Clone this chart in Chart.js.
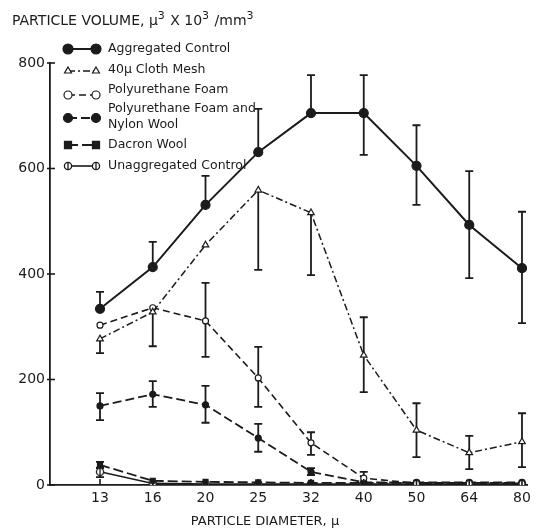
<!DOCTYPE html>
<html>
<head>
<meta charset="utf-8">
<style>
  html, body { margin: 0; padding: 0; background: #fff; }
  #wrap { width: 540px; height: 530px; }
</style>
<script src="https://cdn.jsdelivr.net/npm/chart.js@4/dist/chart.umd.min.js"></script>
</head>
<body>
<div id="wrap"><canvas id="volumeChart" width="540" height="530"></canvas></div>
<script>
// particle diameter classes (x axis)
const diameters = ['13', '16', '20', '25', '32', '40', '50', '64', '80'];

// particle volume, mu^3 x 10^3 / mm^3
const aggregated      = [334, 413, 531, 631, 705, 705, 605, 493, 411];
const aggregatedHi    = [366, 461, 586, 713, 777, 777, 682, 595, 518];
const aggregatedLo    = [null, null, null, null, null, 626, 531, 392, 307];

const clothMesh       = [277, 328, 455, 559, 516, 246, 104, 61, 82];
const clothMeshHi     = [null, null, null, null, null, 318, 155, 93, 136];
const clothMeshLo     = [250, 263, null, 408, 398, 176, 53, 30, 34];

const foam            = [303, 336, 311, 203, 80, 13, 3, 3, 3];
const foamHi          = [null, null, 383, 262, 100, 25, null, null, null];
const foamLo          = [null, null, 243, 148, 57, null, null, null, null];

const foamNylon       = [150, 172, 152, 89, 25, 5, 5, 5, 5];
const foamNylonHi     = [174, 197, 188, 116, 32, null, null, null, null];
const foamNylonLo     = [123, 148, 118, 63, 19, null, null, null, null];

const dacron          = [38, 8, 6, 5, 4, 4, 4, 4, 4];
const dacronHi        = [44, null, null, null, null, null, null, null, null];
const dacronLo        = [32, null, null, null, null, null, null, null, null];

const unaggregated    = [25, 3, 2, 2, 2, 2, 2, 2, 2];
const unaggregatedHi  = [33, null, null, null, null, null, null, null, null];
const unaggregatedLo  = [15, null, null, null, null, null, null, null, null];

const yTicks = [0, 200, 400, 600, 800];

const INK = '#1b1b1b';
const FONT = "'DejaVu Sans', 'Liberation Sans', sans-serif";

// open circle with a vertical bar through it
function barredCircle() {
  const c = document.createElement('canvas');
  c.width = 10; c.height = 10;
  const g = c.getContext('2d');
  g.strokeStyle = INK; g.lineWidth = 1.3; g.fillStyle = '#fff';
  g.beginPath(); g.arc(5, 5, 3.6, 0, Math.PI * 2); g.fill(); g.stroke();
  g.beginPath(); g.moveTo(5, 1.4); g.lineTo(5, 8.6); g.stroke();
  return c;
}
const barred = barredCircle();

const toXY = arr => arr.map((v, i) => ({ x: i, y: v }));

const series = [
  { label: 'Aggregated Control', data: aggregated, hi: aggregatedHi, lo: aggregatedLo,
    dash: [], width: 2, style: 'circle', radius: 4.5, keyRadius: 5, fill: INK },
  { label: '40\u03bc Cloth Mesh', data: clothMesh, hi: clothMeshHi, lo: clothMeshLo,
    dash: [7, 3, 2, 3], width: 1.5, style: 'triangle', radius: 3.8, keyRadius: 4, fill: '#fff' },
  { label: 'Polyurethane Foam', data: foam, hi: foamHi, lo: foamLo,
    dash: [7, 4], width: 1.6, style: 'circle', radius: 3, keyRadius: 4, fill: '#fff' },
  { label: 'Polyurethane Foam and\nNylon Wool', data: foamNylon, hi: foamNylonHi, lo: foamNylonLo,
    dash: [9, 4], width: 1.8, style: 'circle', radius: 3, keyRadius: 4.5, fill: INK },
  { label: 'Dacron Wool', data: dacron, hi: dacronHi, lo: dacronLo,
    dash: [10, 4], width: 1.8, style: 'rect', radius: 3.5, keyRadius: 5, fill: INK },
  { label: 'Unaggregated Control', data: unaggregated, hi: unaggregatedHi, lo: unaggregatedLo,
    dash: [], width: 1.6, style: barred, radius: 4, keyRadius: 4, fill: '#fff' }
];

const datasets = series.map(s => ({
  label: s.label,
  data: toXY(s.data),
  borderColor: INK,
  borderWidth: s.width,
  borderDash: s.dash,
  pointStyle: s.style,
  pointRadius: s.radius,
  pointBackgroundColor: s.fill,
  pointBorderColor: INK,
  pointBorderWidth: 1.2,
  tension: 0,
  fill: false
}));

// text with raised "3" exponents, e.g. ['PARTICLE VOLUME, \u03bc', '3', ...]
function drawWithExponents(ctx, parts, x, y, size) {
  let cx = x;
  parts.forEach((p, i) => {
    const sup = i % 2 === 1;
    ctx.font = (sup ? Math.round(size * 0.75) : size) + 'px ' + FONT;
    ctx.fillText(p, cx, sup ? y - size * 0.45 : y);
    cx += ctx.measureText(p).width + (sup ? 1 : 0);
  });
}

// error bars, axis ticks, titles and the hand-drawn key
const decorations = {
  id: 'decorations',
  beforeDatasetsDraw(chart) {
    const { ctx } = chart;
    const xs = chart.scales.x, ys = chart.scales.y;
    ctx.save();
    ctx.strokeStyle = INK;
    ctx.lineWidth = 1.8;
    ctx.setLineDash([]);
    series.forEach(s => {
      s.data.forEach((v, i) => {
        const px = xs.getPixelForValue(i);
        const py = ys.getPixelForValue(v);
        const ends = [];
        if (s.hi[i] != null) ends.push(ys.getPixelForValue(s.hi[i]));
        if (s.lo[i] != null) ends.push(ys.getPixelForValue(s.lo[i]));
        ends.forEach(e => {
          ctx.beginPath();
          ctx.moveTo(px, py); ctx.lineTo(px, e);
          ctx.moveTo(px - 4, e); ctx.lineTo(px + 4, e);
          ctx.stroke();
        });
      });
    });
    ctx.restore();
  },
  afterDraw(chart) {
    const { ctx, chartArea } = chart;
    const xs = chart.scales.x, ys = chart.scales.y;
    ctx.save();
    ctx.strokeStyle = INK;
    ctx.fillStyle = INK;
    ctx.lineWidth = 1.6;

    // y ticks cross the axis line
    yTicks.forEach(t => {
      const py = ys.getPixelForValue(t);
      ctx.beginPath();
      ctx.moveTo(chartArea.left - 3, py);
      ctx.lineTo(chartArea.left + 5, py);
      ctx.stroke();
    });
    // x ticks point up into the plot
    diameters.forEach((d, i) => {
      const px = xs.getPixelForValue(i);
      ctx.beginPath();
      ctx.moveTo(px, chartArea.bottom);
      ctx.lineTo(px, chartArea.bottom - 6);
      ctx.stroke();
    });

    // axis titles
    ctx.textBaseline = 'alphabetic';
    ctx.textAlign = 'left';
    drawWithExponents(ctx, ['PARTICLE VOLUME, \u03bc', '3', ' X 10', '3', ' /mm', '3'], 12, 25, 14);
    ctx.font = '13px ' + FONT;
    ctx.textAlign = 'center';
    ctx.fillText('PARTICLE DIAMETER, \u03bc', 265, 525);

    // key
    const rows = [
      { my: 49, ty: [49] },
      { my: 71, ty: [70] },
      { my: 95, ty: [90] },
      { my: 118, ty: [109, 125] },
      { my: 145, ty: [145] },
      { my: 166, ty: [166] }
    ];
    const x0 = 68, x1 = 96, tx = 108;
    ctx.font = '12.5px ' + FONT;
    ctx.textAlign = 'left';
    ctx.textBaseline = 'middle';
    series.forEach((s, k) => {
      const r = rows[k];
      ctx.save();
      ctx.lineWidth = s.width;
      ctx.setLineDash(s.dash);
      ctx.beginPath();
      ctx.moveTo(x0, r.my); ctx.lineTo(x1, r.my);
      ctx.stroke();
      ctx.restore();
      [x0, x1].forEach(px => {
        ctx.save();
        ctx.fillStyle = s.fill;
        ctx.strokeStyle = INK;
        ctx.lineWidth = 1.2;
        Chart.helpers.drawPoint(ctx, { pointStyle: s.style, radius: s.keyRadius, borderWidth: 1.2, rotation: 0 }, px, r.my);
        ctx.restore();
      });
      s.label.split('\n').forEach((line, j) => ctx.fillText(line, tx, r.ty[j]));
    });
    ctx.restore();
  }
};

new Chart(document.getElementById('volumeChart'), {
  type: 'line',
  data: { datasets },
  options: {
    responsive: false,
    animation: false,
    layout: { padding: { left: 12, right: 13, top: 63, bottom: 0 } },
    plugins: { legend: { display: false }, tooltip: { enabled: false } },
    scales: {
      x: {
        type: 'linear',
        min: -0.948,
        max: 8.095,
        grid: { display: false, drawTicks: false },
        border: { display: true, color: INK, width: 1.8 },
        afterBuildTicks: s => { s.ticks = diameters.map((d, i) => ({ value: i })); },
        afterFit: s => { s.height = 45; },
        ticks: {
          color: INK,
          padding: 5,
          font: { family: FONT, size: 14 },
          callback: v => diameters[v]
        }
      },
      y: {
        min: 0,
        max: 800,
        grid: { display: false, drawTicks: false },
        border: { display: true, color: INK, width: 1.8 },
        afterBuildTicks: s => { s.ticks = yTicks.map(v => ({ value: v })); },
        afterFit: s => { s.width = 38; },
        ticks: {
          color: INK,
          padding: 5,
          font: { family: FONT, size: 14 }
        }
      }
    }
  },
  plugins: [decorations]
});
</script>
</body>
</html>
